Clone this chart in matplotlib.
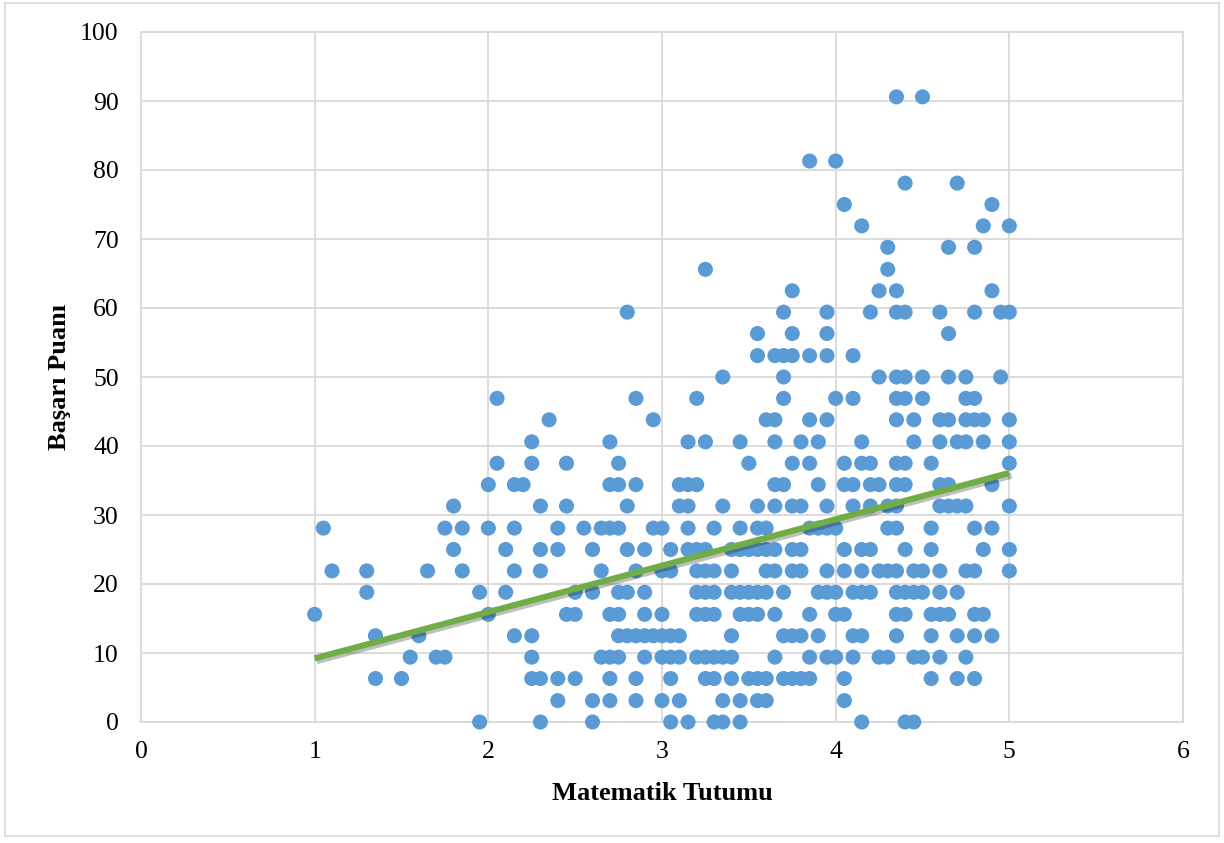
import numpy as np
import matplotlib as mpl
mpl.use("Agg")
from matplotlib import pyplot as plt
from matplotlib import patches
from matplotlib import patheffects as pe

# ---------------- data ----------------
# x = Matematik Tutumu, y = Basari Puani (one list of scores per attitude value)
seg1_x = [1.00, 1.05, 1.10, 1.30, 1.35, 1.50, 1.55, 1.60, 1.65, 1.70, 1.75, 1.80, 1.85, 1.95]
seg1_y = [[15.6], [28.1], [21.9], [21.9, 18.8], [12.5, 6.3], [6.3], [9.4], [12.5], [21.9],
          [9.4], [28.1, 9.4], [31.3, 25], [28.1, 21.9], [18.8, 0]]

seg2_x = [2.00, 2.05, 2.10, 2.15, 2.20, 2.25, 2.30, 2.35, 2.40, 2.45, 2.50, 2.55, 2.60,
          2.65, 2.70, 2.75, 2.80, 2.85, 2.90, 2.95]
seg2_y = [[34.4, 28.1, 15.6], [46.9, 37.5], [25, 18.8], [34.4, 28.1, 21.9, 12.5], [34.4],
          [40.6, 37.5, 12.5, 9.4, 6.3], [31.3, 25, 21.9, 6.3, 0], [43.8], [28.1, 25, 6.3, 3.1],
          [37.5, 31.3, 15.6], [18.8, 15.6, 6.3], [28.1], [25, 18.8, 3.1, 0], [28.1, 21.9, 9.4],
          [40.6, 34.4, 28.1, 15.6, 9.4, 6.3, 3.1], [37.5, 34.4, 28.1, 18.8, 15.6, 12.5, 9.4],
          [59.4, 31.3, 25, 18.8, 12.5], [46.9, 34.4, 21.9, 12.5, 6.3, 3.1],
          [25, 18.8, 15.6, 12.5, 9.4], [43.8, 28.1, 12.5]]

seg3_x = [3.00, 3.05, 3.10, 3.15, 3.20, 3.25, 3.30, 3.35, 3.40, 3.45, 3.50, 3.55, 3.60,
          3.65, 3.70, 3.75, 3.80, 3.85, 3.90, 3.95]
seg3_y = [[28.1, 21.9, 15.6, 12.5, 9.4, 3.1], [25, 21.9, 12.5, 9.4, 6.3, 0],
          [34.4, 31.3, 12.5, 9.4, 3.1], [40.6, 34.4, 31.3, 28.1, 25, 0],
          [46.9, 34.4, 25, 21.9, 18.8, 15.6, 9.4], [65.6, 40.6, 25, 21.9, 18.8, 15.6, 9.4, 6.3],
          [28.1, 21.9, 18.8, 15.6, 9.4, 6.3, 0], [50, 31.3, 9.4, 3.1, 0],
          [25, 21.9, 18.8, 12.5, 9.4, 6.3], [40.6, 28.1, 25, 18.8, 15.6, 3.1, 0],
          [37.5, 25, 18.8, 15.6, 6.3], [56.3, 53.1, 31.3, 28.1, 25, 18.8, 15.6, 6.3, 3.1],
          [43.8, 28.1, 25, 21.9, 18.8, 6.3, 3.1], [53.1, 43.8, 40.6, 34.4, 31.3, 25, 21.9, 15.6, 9.4],
          [59.4, 53.1, 50, 46.9, 34.4, 18.8, 12.5, 6.3], [62.5, 56.3, 53.1, 37.5, 31.3, 25, 21.9, 12.5, 6.3],
          [40.6, 31.3, 25, 21.9, 12.5, 6.3], [81.3, 53.1, 43.8, 37.5, 28.1, 15.6, 9.4, 6.3],
          [40.6, 34.4, 28.1, 18.8, 12.5], [59.4, 56.3, 53.1, 43.8, 31.3, 28.1, 21.9, 18.8, 9.4]]

seg4_x = [4.00, 4.05, 4.10, 4.15, 4.20, 4.25, 4.30, 4.35, 4.40, 4.45, 4.50, 4.55, 4.60,
          4.65, 4.70, 4.75, 4.80, 4.85, 4.90, 4.95, 5.00]
seg4_y = [[81.3, 46.9, 28.1, 18.8, 15.6, 9.4], [75, 37.5, 34.4, 25, 21.9, 15.6, 6.3, 3.1],
          [53.1, 46.9, 34.4, 31.3, 18.8, 12.5, 9.4], [71.9, 40.6, 37.5, 25, 21.9, 18.8, 12.5, 0],
          [59.4, 37.5, 34.4, 31.3, 25, 18.8], [62.5, 50, 34.4, 21.9, 9.4],
          [68.8, 65.6, 31.3, 28.1, 21.9, 9.4],
          [90.6, 62.5, 59.4, 50, 46.9, 43.8, 37.5, 34.4, 31.3, 28.1, 21.9, 18.8, 15.6, 12.5],
          [78.1, 59.4, 50, 46.9, 37.5, 34.4, 25, 18.8, 15.6, 0], [43.8, 40.6, 21.9, 18.8, 9.4, 0],
          [90.6, 50, 46.9, 21.9, 18.8, 9.4], [37.5, 28.1, 25, 15.6, 12.5, 6.3],
          [59.4, 43.8, 40.6, 34.4, 31.3, 21.9, 18.8, 15.6, 9.4], [68.8, 56.3, 50, 43.8, 34.4, 31.3, 15.6],
          [78.1, 40.6, 31.3, 18.8, 12.5, 6.3], [50, 46.9, 43.8, 40.6, 31.3, 21.9, 9.4],
          [68.8, 59.4, 46.9, 43.8, 28.1, 21.9, 15.6, 12.5, 6.3], [71.9, 43.8, 40.6, 25, 15.6],
          [75, 62.5, 34.4, 28.1, 12.5], [59.4, 50], [71.9, 59.4, 43.8, 40.6, 37.5, 31.3, 25, 21.9]]

# linear trend line as shown on the chart
trend_slope = 6.72
trend_intercept = 2.5

x_ticks = [0, 1, 2, 3, 4, 5, 6]
y_ticks = [0, 10, 20, 30, 40, 50, 60, 70, 80, 90, 100]


def expand(xs, ys):
    xx = []
    yy = []
    for xv, col in zip(xs, ys):
        for yv in col:
            xx.append(xv)
            yy.append(yv)
    return xx, yy


all_x = []
all_y = []
for xs, ys in [(seg1_x, seg1_y), (seg2_x, seg2_y), (seg3_x, seg3_y), (seg4_x, seg4_y)]:
    xx, yy = expand(xs, ys)
    all_x += xx
    all_y += yy
all_x = np.array(all_x)
all_y = np.array(all_y)

# ---------------- plot ----------------
plt.rcParams['font.family'] = ['Liberation Serif', 'DejaVu Serif']
fig = plt.figure(figsize=(12.24, 8.43), dpi=100)
fig.patches.append(patches.Rectangle((0.004, 0.008), 0.992, 0.988, transform=fig.transFigure,
                                     fill=False, edgecolor='#D9D9D9', linewidth=1.2))

ax = fig.add_axes([141 / 1224, 121 / 843, 1042 / 1224, 690 / 843])
grid_c = '#D9D9D9'
ax.set_axisbelow(True)
ax.grid(True, color=grid_c, linewidth=1.3)
for sp in ax.spines.values():
    sp.set_color(grid_c)
    sp.set_linewidth(1.3)

ax.scatter(all_x, all_y, s=118, color='#5B9BD5', edgecolors='none', zorder=3, clip_on=False)

tx = np.array([all_x.min(), all_x.max()])
ax.plot(tx, trend_slope * tx + trend_intercept, color='#70AD47', linewidth=4.4, zorder=4,
        solid_capstyle='butt',
        path_effects=[pe.SimpleLineShadow(offset=(1.5, -2), shadow_color='black', alpha=0.25),
                      pe.Normal()])

ax.set_xlim(0, 6)
ax.set_ylim(0, 100)
ax.set_xticks(x_ticks)
ax.set_yticks(y_ticks)
ax.tick_params(length=0, labelsize=18.5, colors='black')
ax.tick_params(axis='y', pad=16)
ax.tick_params(axis='x', pad=14)

ax.set_xlabel('Matematik Tutumu', fontsize=19, fontweight='bold')
ax.set_ylabel('Başarı Puanı', fontsize=19, fontweight='bold')
ax.xaxis.set_label_coords(0.5, -0.103)
ax.xaxis.label.set_va('center')
ax.yaxis.set_label_coords(-0.078, 0.5)
ax.yaxis.label.set_va('center')

plt.savefig('out.png', dpi=100, facecolor='w')
plt.close('all')
